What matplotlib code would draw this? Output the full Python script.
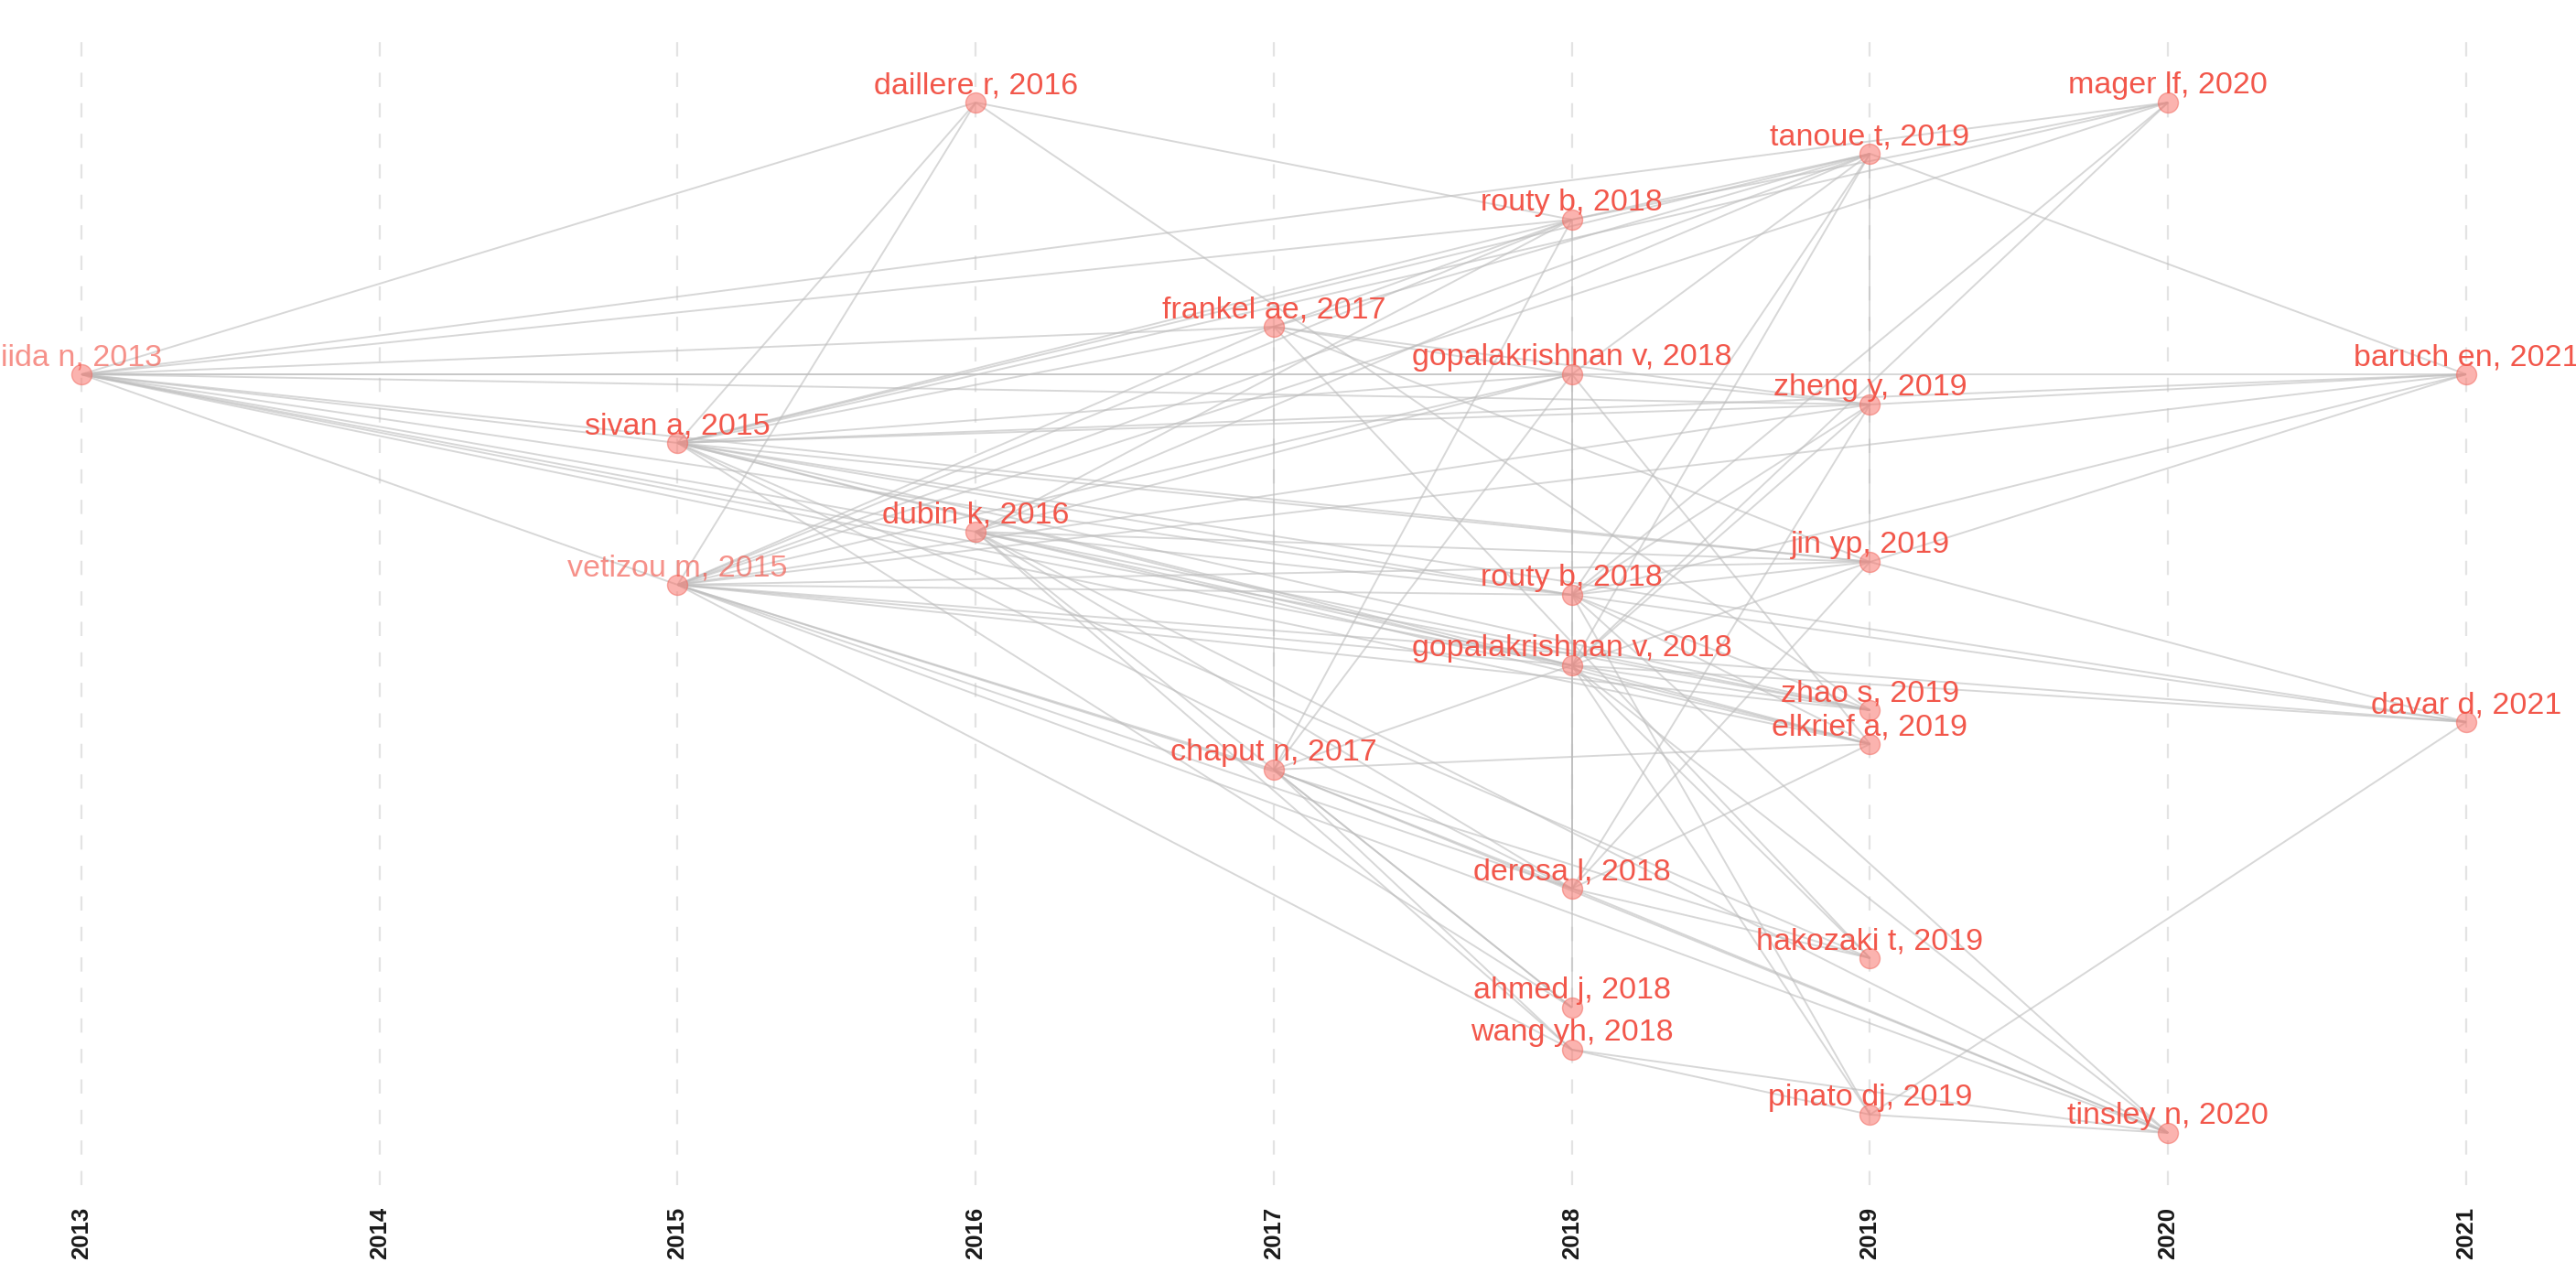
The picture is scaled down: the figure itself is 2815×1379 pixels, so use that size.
import matplotlib.pyplot as plt

# historiograph nodes: key, label, year, layout position (top = small)
nodes = ["iida", "sivan", "vetizou", "daillere", "dubin", "frankel", "chaput",
         "routy_a", "gopal_a", "routy_b", "gopal_b", "derosa", "ahmed", "wang",
         "tanoue", "zheng", "jin", "zhao", "elkrief", "hakozaki", "pinato",
         "mager", "tinsley", "baruch", "davar"]
labels = ["iida n, 2013", "sivan a, 2015", "vetizou m, 2015", "daillere r, 2016",
          "dubin k, 2016", "frankel ae, 2017", "chaput n, 2017", "routy b, 2018",
          "gopalakrishnan v, 2018", "routy b, 2018", "gopalakrishnan v, 2018",
          "derosa l, 2018", "ahmed j, 2018", "wang yh, 2018", "tanoue t, 2019",
          "zheng y, 2019", "jin yp, 2019", "zhao s, 2019", "elkrief a, 2019",
          "hakozaki t, 2019", "pinato dj, 2019", "mager lf, 2020", "tinsley n, 2020",
          "baruch en, 2021", "davar d, 2021"]
years = [2013, 2015, 2015, 2016, 2016, 2017, 2017, 2018, 2018, 2018, 2018, 2018,
         2018, 2018, 2019, 2019, 2019, 2019, 2019, 2019, 2019, 2020, 2020, 2021, 2021]
layout_y = [409, 484, 639, 112, 581, 357, 841, 240, 409, 650, 727, 971, 1101, 1147,
            168, 442, 614, 776, 813, 1047, 1218, 112, 1238, 409, 789]

# citation links (cited -> citing)
edges = [
    ("iida", "daillere"), ("iida", "mager"), ("iida", "routy_a"), ("iida", "frankel"),
    ("iida", "gopal_a"), ("iida", "baruch"), ("iida", "zheng"), ("iida", "sivan"),
    ("iida", "jin"), ("iida", "routy_b"), ("iida", "dubin"), ("iida", "zhao"),
    ("iida", "gopal_b"), ("iida", "elkrief"), ("iida", "vetizou"),
    ("sivan", "daillere"), ("sivan", "mager"), ("sivan", "routy_a"), ("sivan", "frankel"),
    ("sivan", "gopal_a"), ("sivan", "zheng"), ("sivan", "baruch"), ("sivan", "jin"),
    ("sivan", "routy_b"), ("sivan", "gopal_b"), ("sivan", "zhao"), ("sivan", "elkrief"),
    ("sivan", "derosa"), ("sivan", "hakozaki"), ("sivan", "ahmed"), ("sivan", "tanoue"),
    ("sivan", "davar"),
    ("vetizou", "daillere"), ("vetizou", "routy_a"), ("vetizou", "frankel"),
    ("vetizou", "gopal_a"), ("vetizou", "tanoue"), ("vetizou", "mager"),
    ("vetizou", "routy_b"), ("vetizou", "jin"), ("vetizou", "zheng"), ("vetizou", "baruch"),
    ("vetizou", "davar"), ("vetizou", "derosa"), ("vetizou", "hakozaki"),
    ("vetizou", "tinsley"), ("vetizou", "wang"), ("vetizou", "chaput"),
    ("vetizou", "gopal_b"), ("vetizou", "zhao"),
    ("daillere", "routy_a"), ("daillere", "zhao"),
    ("dubin", "routy_a"), ("dubin", "tanoue"), ("dubin", "gopal_a"), ("dubin", "jin"),
    ("dubin", "routy_b"), ("dubin", "gopal_b"), ("dubin", "zhao"), ("dubin", "elkrief"),
    ("dubin", "derosa"), ("dubin", "ahmed"), ("dubin", "wang"), ("dubin", "tinsley"),
    ("frankel", "routy_a"), ("frankel", "tanoue"),
    ("frankel", "gopal_a"), ("frankel", "jin"), ("frankel", "chaput"),
    ("frankel", "hakozaki"), ("frankel", "zheng"),
    ("chaput", "routy_a"), ("chaput", "gopal_a"), ("chaput", "gopal_b"),
    ("chaput", "elkrief"), ("chaput", "derosa"), ("chaput", "ahmed"), ("chaput", "wang"),
    ("chaput", "tinsley"),
    ("routy_a", "tanoue"), ("routy_a", "mager"), ("routy_a", "routy_b"),
    ("gopal_a", "zheng"), ("gopal_a", "elkrief"), ("gopal_a", "derosa"),
    ("gopal_a", "tanoue"),
    ("routy_b", "mager"), ("routy_b", "tanoue"), ("routy_b", "zheng"), ("routy_b", "jin"),
    ("routy_b", "baruch"), ("routy_b", "davar"), ("routy_b", "tinsley"),
    ("routy_b", "pinato"), ("routy_b", "zhao"), ("routy_b", "elkrief"), ("routy_b", "ahmed"),
    ("gopal_b", "mager"), ("gopal_b", "tanoue"), ("gopal_b", "zheng"), ("gopal_b", "jin"),
    ("gopal_b", "zhao"), ("gopal_b", "elkrief"), ("gopal_b", "hakozaki"),
    ("gopal_b", "pinato"), ("gopal_b", "tinsley"), ("gopal_b", "davar"),
    ("gopal_b", "derosa"),
    ("derosa", "jin"), ("derosa", "elkrief"), ("derosa", "hakozaki"),
    ("derosa", "tinsley"), ("derosa", "zheng"),
    ("wang", "pinato"), ("wang", "tinsley"),
    ("tanoue", "zheng"), ("tanoue", "baruch"),
    ("zheng", "jin"), ("zheng", "baruch"),
    ("jin", "baruch"), ("jin", "davar"),
    ("pinato", "davar"), ("pinato", "tinsley"),
]

faded = ["iida", "vetizou"]
year_ticks = list(range(2013, 2022))

W, H = 2815, 1379
fig = plt.figure(figsize=(W / 100, H / 100), dpi=100)
ax = fig.add_axes([0, 1 - 1295 / H, 1, (1295 - 31) / H])
ax.set_xlim(2012.7268, 2021.3684)
ax.set_ylim(1295, 31)

pos = {k: (x, y) for k, x, y in zip(nodes, years, layout_y)}

for a, b in edges:
    (x0, y0), (x1, y1) = pos[a], pos[b]
    ax.plot([x0, x1], [y0, y1], color="#BDBDBD", lw=1.4, alpha=0.6, zorder=1,
            solid_capstyle="butt")

ax.scatter(years, layout_y, s=250, color="#F8766D", alpha=0.55,
           edgecolors="#F26A60", linewidths=1, zorder=2)

for k, lab, x, y in zip(nodes, labels, years, layout_y):
    ax.annotate(lab, (x, y), xytext=(0, 7), textcoords="offset points",
                ha="center", va="baseline", fontsize=24.5, family="Liberation Sans",
                color="#F2574B", alpha=0.65 if k in faded else 1.0,
                zorder=3, annotation_clip=False)

ax.set_xticks(year_ticks)
ax.set_xticklabels([str(y) for y in year_ticks], rotation=90, fontweight="bold",
                   fontsize=18.5, family="Liberation Sans", color="#1A1A1A")
ax.tick_params(axis="x", length=0, pad=17)
ax.set_yticks([])
ax.grid(axis="x", color="#E3E3E3", lw=1.6, ls=(0, (7, 8)))
ax.set_axisbelow(True)
for s in ax.spines.values():
    s.set_visible(False)

fig.savefig("out.png", dpi=100)
